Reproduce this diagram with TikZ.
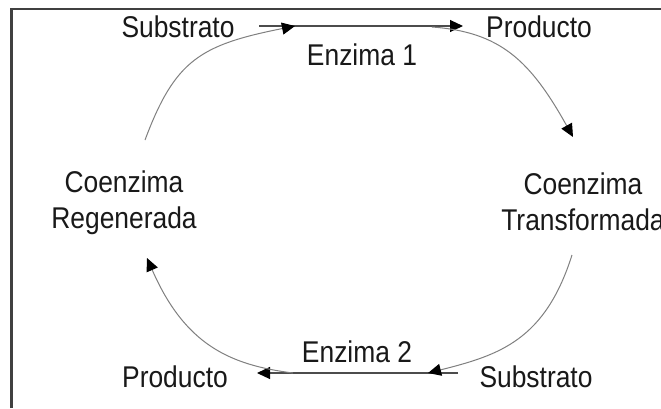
\documentclass[tikz,border=0pt]{standalone}
\usepackage{fontspec}
\setmainfont{Liberation Sans}
\usetikzlibrary{arrows.meta}
\begin{document}
\begin{tikzpicture}[x=1pt,y=-1pt,
  lbl/.style={font=\fontsize{30}{36}\selectfont, text=black!90, xscale=0.88, inner sep=0pt},
  tip/.style={-{Triangle[length=13pt,width=12pt,color=black]}},
  flow/.style={tip, draw=black!70, line width=1.1pt},
  cyc/.style={tip, draw=black!50, line width=1pt}]
  \useasboundingbox (0,0) rectangle (661,408);
  \clip (0,0) rectangle (661,408);
  \fill[white] (0,0) rectangle (661,408);

  % frame (top and left edges)
  \draw[black!75, line width=2.5pt] (11.5,408) |- (661,9);

  % labels (two-line labels are anchored on the baseline of their last line)
  \node[lbl,anchor=base] (sub1)  at (178,37) {Substrato};
  \node[lbl,anchor=base] (prod1) at (539,37) {Producto};
  \node[lbl,anchor=base] (enz1)  at (362,65) {Enzima 1};
  \node[lbl,anchor=base,align=center] (coreg) at (124,228) {Coenzima\\Regenerada};
  \node[lbl,anchor=base,align=center] (cotr)  at (583,230) {Coenzima\\Transformada};
  \node[lbl,anchor=base] (enz2)  at (357,362) {Enzima 2};
  \node[lbl,anchor=base] (prod2) at (175,387) {Producto};
  \node[lbl,anchor=base] (sub2)  at (536,387) {Substrato};

  % connector end points
  \coordinate (topA) at (259,26);
  \coordinate (topB) at (463,26);
  \coordinate (topJoin) at (295,26);
  \coordinate (topSplit) at (432,27);
  \coordinate (regUp) at (145,140);
  \coordinate (trIn) at (573,137);
  \coordinate (trOut) at (572,255);
  \coordinate (botA) at (458,373);
  \coordinate (botB) at (257,373);
  \coordinate (botJoin) at (428,373);
  \coordinate (botSplit) at (293,373);
  \coordinate (regIn) at (147,258);

  % reaction lines
  \draw[flow] (topA) -- (topB);
  \draw[flow] (botA) -- (botB);

  % coenzyme cycle
  \draw[cyc] (regUp) .. controls (175,60) and (200,45) .. (topJoin);
  \draw[cyc] (topSplit) .. controls (500,32) and (530,60) .. (trIn);
  \draw[cyc] (trOut) .. controls (545,340) and (500,355) .. (botJoin);
  \draw[cyc] (botSplit) .. controls (230,365) and (185,345) .. (regIn);
\end{tikzpicture}
\end{document}
